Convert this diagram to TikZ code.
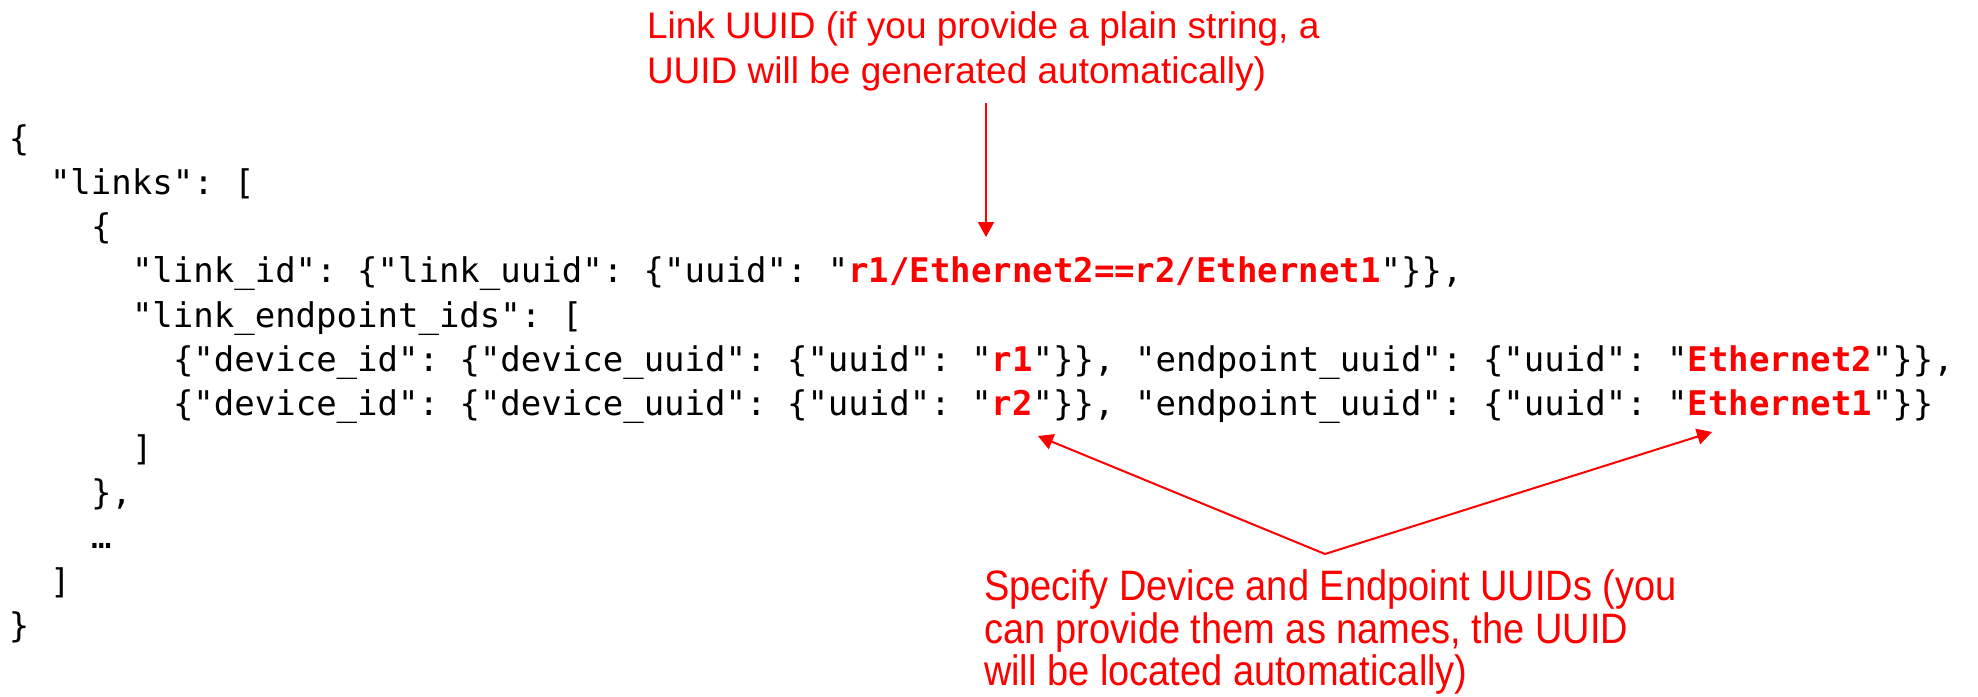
\documentclass[tikz,border=0pt]{standalone}
\usepackage{fontspec}
\setmainfont{Liberation Sans}
\setmonofont{DejaVu Sans Mono}
\usetikzlibrary{arrows.meta}
\definecolor{annred}{RGB}{255,0,0}
\newcommand{\redb}[1]{\textcolor{annred}{\bfseries #1}}
\newcommand{\tallbox}[1]{\scalebox{1}[1.12]{#1}}
\begin{document}
\begin{tikzpicture}[x=1pt,y=-1pt,
  code/.style={anchor=base west, inner sep=0pt, outer sep=0pt, font=\fontsize{34}{44}\selectfont\ttfamily},
  ann/.style={anchor=base west, inner sep=0pt, outer sep=0pt, text=annred, font=\fontsize{37}{45}\selectfont},
  annb/.style={anchor=base west, inner sep=0pt, outer sep=0pt, text=annred, font=\fontsize{38}{45}\selectfont},
  arr/.style={draw=annred, line width=2pt, -{Triangle[width=16pt,length=15pt]}}]
\useasboundingbox (0,0) rectangle (1978,696);
% code lines
\node[code] (l0)  at (9,150)             {\{};
\node[code] (l1)  at (9+2*20.5,194.3)    {"links": [};
\node[code] (l2)  at (9+4*20.5,238.6)    {\{};
\node[code] (l3)  at (9+6*20.5,282.9)    {"link\_id": \{"link\_uuid": \{"uuid": "\redb{r1/Ethernet2==r2/Ethernet1}"\}\},};
\node[code] (l4)  at (9+6*20.5,327.2)    {"link\_endpoint\_ids": [};
\node[code] (l5)  at (9+8*20.5,371.5)    {\{"device\_id": \{"device\_uuid": \{"uuid": "\redb{r1}"\}\}, "endpoint\_uuid": \{"uuid": "\redb{Ethernet2}"\}\},};
\node[code] (l6)  at (9+8*20.5,415.8)    {\{"device\_id": \{"device\_uuid": \{"uuid": "\redb{r2}"\}\}, "endpoint\_uuid": \{"uuid": "\redb{Ethernet1}"\}\}};
\node[code] (l7)  at (9+6*20.5,460.1)    {]};
\node[code] (l8)  at (9+4*20.5,504.4)    {\},};
\node[code] (l9)  at (9+4*20.5,548.7)    {…};
\node[code] (l10) at (9+2*20.5,593)      {]};
\node[code] (l11) at (9,637.3)           {\}};
% annotations
\node[ann] (t1) at (647,38) {Link UUID (if you provide a plain string, a};
\node[ann] (t2) at (647,83) {UUID will be generated automatically)};
\node[annb] (b1) at (984,600) {\tallbox{Specify Device and Endpoint UUIDs (you}};
\node[annb] (b2) at (984,643) {\tallbox{can provide them as names, the UUID}};
\node[annb] (b3) at (984,685) {\tallbox{will be located automatically)}};
% connectors
\coordinate (ta) at (986,103);
\coordinate (tb) at (986,237);
\coordinate (v)  at (1325,554);
\coordinate (p1) at (1038,436);
\coordinate (p2) at (1712,432);
\draw[arr] (ta) -- (tb);
\draw[arr] (v) -- (p1);
\draw[arr] (v) -- (p2);
\end{tikzpicture}
\end{document}
